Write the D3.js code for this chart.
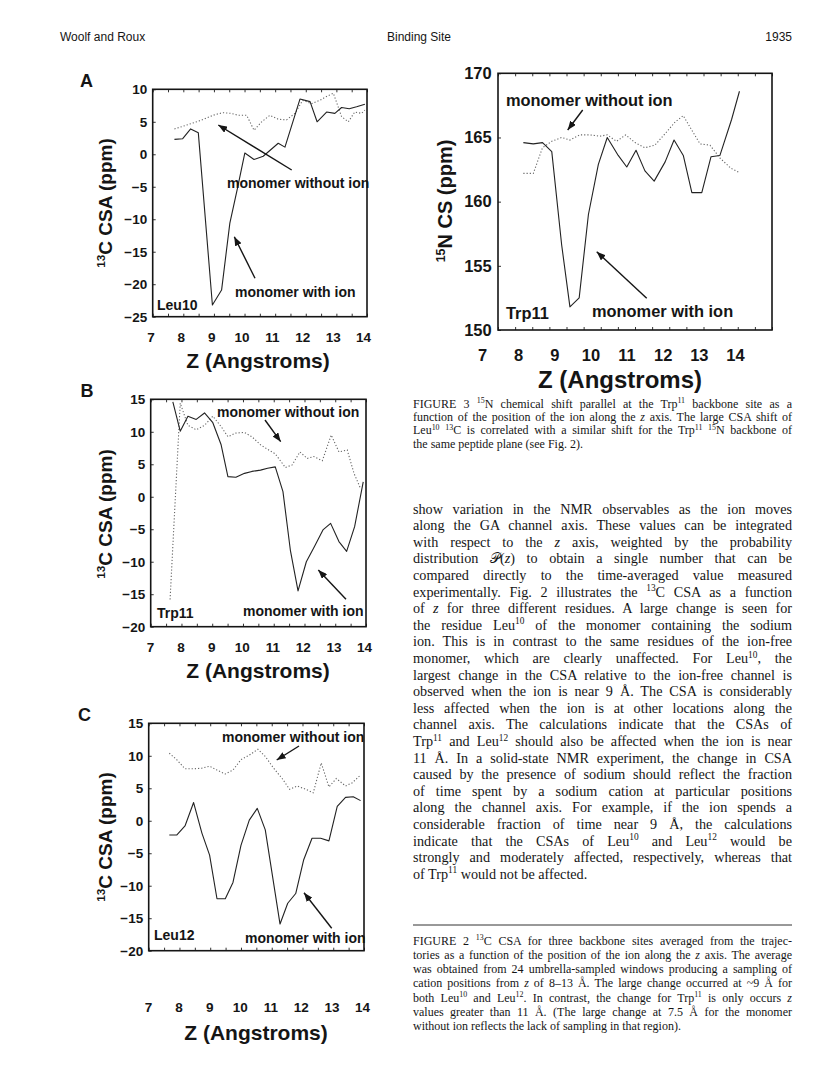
<!DOCTYPE html>
<html>
<head>
<meta charset="utf-8">
<script src="https://d3js.org/d3.v7.min.js"></script>
<style>
  body { margin: 0; background: #fff; }
</style>
</head>
<body>
<script>
// ---------- data ----------
const zTicks = [7, 8, 9, 10, 11, 12, 13, 14];

// Fig 2A  Leu10, 13C CSA (ppm)
const leu10Ticks = [-25, -20, -15, -10, -5, 0, 5, 10];
const leu10WithZ = [7.71, 7.98, 8.24, 8.49, 8.95, 9.25, 9.52, 9.77, 10.01, 10.31, 10.61, 11.1, 11.32, 11.81, 12.14, 12.37, 12.68, 12.95, 13.17, 13.42, 13.66, 13.93];
const leu10With = [2.3, 2.4, 3.9, 3.3, -23.2, -20.9, -10.6, -5.2, 0.2, -0.8, -0.3, 1.7, 1.1, 8.5, 8.1, 5.0, 6.5, 6.3, 7.2, 7.0, 7.3, 7.7];
const leu10WithoutZ = [7.71, 7.98, 8.24, 8.5, 8.77, 9.03, 9.29, 9.55, 9.8, 10.07, 10.31, 10.56, 10.83, 11.1, 11.37, 11.65, 11.9, 12.19, 12.46, 12.68, 12.9, 13.17, 13.39, 13.6, 13.82, 13.93];
const leu10Without = [3.9, 4.3, 4.7, 5.1, 5.6, 6.1, 6.4, 6.3, 6.0, 6.0, 3.7, 5.0, 6.0, 5.4, 5.3, 6.3, 8.3, 7.8, 8.3, 8.9, 9.4, 5.8, 5.0, 6.5, 6.3, 6.8];

// Fig 2B  Trp11, 13C CSA (ppm)
const trp11Ticks = [-20, -15, -10, -5, 0, 5, 10, 15];
const trp11WithZ = [7.72, 7.96, 8.21, 8.48, 8.75, 9.02, 9.29, 9.51, 9.77, 10.05, 10.29, 10.57, 10.8, 11.05, 11.3, 11.54, 11.79, 12.06, 12.32, 12.6, 12.85, 13.12, 13.37, 13.63, 13.91];
const trp11With = [14.6, 10.1, 12.4, 11.9, 12.9, 11.4, 8.0, 3.1, 3.0, 3.6, 3.9, 4.1, 4.4, 4.6, 0.8, -8.2, -14.5, -10.0, -7.7, -5.1, -4.1, -6.9, -8.4, -4.6, 2.3];
const trp11WithoutZ = [7.63, 7.96, 8.21, 8.48, 8.75, 9.02, 9.29, 9.51, 9.77, 10.05, 10.3, 10.57, 10.8, 11.05, 11.38, 11.6, 11.85, 12.09, 12.3, 12.58, 12.87, 13.12, 13.39, 13.61, 13.82];
const trp11Without = [-15.8, 14.4, 11.0, 10.3, 11.0, 12.4, 10.8, 9.25, 9.8, 9.9, 9.2, 8.0, 7.3, 6.6, 4.5, 4.9, 6.9, 5.9, 6.2, 5.55, 9.5, 6.9, 7.2, 3.6, 1.3];

// Fig 2C  Leu12, 13C CSA (ppm)
const leu12Ticks = [-20, -15, -10, -5, 0, 5, 10, 15];
const leu12WithZ = [7.67, 7.91, 8.18, 8.46, 8.73, 8.98, 9.22, 9.49, 9.74, 10.0, 10.27, 10.53, 10.79, 11.27, 11.52, 11.78, 12.04, 12.31, 12.59, 12.86, 13.13, 13.4, 13.65, 13.89];
const leu12With = [-2.2, -2.2, -0.8, 2.8, -1.9, -5.3, -12.0, -12.0, -9.5, -3.8, 0.1, 1.9, -1.4, -15.9, -12.7, -11.2, -6.0, -2.7, -2.7, -3.1, 2.2, 3.6, 3.7, 3.1];
const leu12WithoutZ = [7.67, 7.91, 8.18, 8.46, 8.73, 8.98, 9.22, 9.49, 9.74, 10.0, 10.27, 10.55, 10.79, 11.06, 11.34, 11.58, 11.83, 12.1, 12.35, 12.61, 12.86, 13.1, 13.4, 13.62, 13.89];
const leu12Without = [10.4, 9.4, 8.0, 8.0, 8.1, 8.4, 7.8, 7.2, 7.8, 9.4, 10.1, 11.0, 9.9, 8.1, 6.5, 4.85, 5.35, 4.85, 4.3, 8.9, 5.2, 6.5, 5.35, 5.85, 7.05];

// Fig 3  Trp11, 15N CS (ppm)
const n15Ticks = [150, 155, 160, 165, 170];
const n15WithZ = [7.74, 8.03, 8.3, 8.57, 8.86, 9.1, 9.37, 9.64, 9.93, 10.19, 10.51, 10.76, 11.03, 11.29, 11.56, 11.88, 12.14, 12.41, 12.66, 12.95, 13.22, 13.48, 13.82, 14.05];
const n15With = [164.6, 164.5, 164.6, 163.9, 156.6, 151.8, 152.5, 159.0, 162.9, 165.0, 163.6, 162.7, 164.0, 162.4, 161.6, 163.1, 164.8, 163.6, 160.7, 160.7, 163.5, 163.6, 166.4, 168.6];
const n15WithoutZ = [7.74, 8.03, 8.3, 8.57, 8.86, 9.1, 9.39, 9.68, 9.97, 10.19, 10.46, 10.73, 11.0, 11.29, 11.58, 11.88, 12.17, 12.41, 12.63, 12.9, 13.19, 13.48, 13.8, 14.02];
const n15Without = [162.2, 162.2, 164.2, 164.7, 165.0, 164.8, 165.2, 165.2, 165.1, 165.2, 164.7, 165.2, 164.6, 164.2, 164.4, 165.3, 166.2, 166.7, 165.7, 164.5, 164.4, 163.4, 162.6, 162.3];

// ---------- page text ----------
const fig3Caption = [
  "FIGURE 3  ^{15}N chemical shift parallel at the Trp^{11} backbone site as a",
  "function of the position of the ion along the *z* axis. The large CSA shift of",
  "Leu^{10} ^{13}C is correlated with a similar shift for the Trp^{11} ^{15}N backbone of",
  "the same peptide plane (see Fig. 2)."
];
const bodyLines = [
  "show variation in the NMR observables as the ion moves",
  "along the GA channel axis. These values can be integrated",
  "with respect to the *z* axis, weighted by the probability",
  "distribution 𝒫(*z*) to obtain a single number that can be",
  "compared directly to the time-averaged value measured",
  "experimentally. Fig. 2 illustrates the ^{13}C CSA as a function",
  "of *z* for three different residues. A large change is seen for",
  "the residue Leu^{10} of the monomer containing the sodium",
  "ion. This is in contrast to the same residues of the ion-free",
  "monomer, which are clearly unaffected. For Leu^{10}, the",
  "largest change in the CSA relative to the ion-free channel is",
  "observed when the ion is near 9 Å. The CSA is considerably",
  "less affected when the ion is at other locations along the",
  "channel axis. The calculations indicate that the CSAs of",
  "Trp^{11} and Leu^{12} should also be affected when the ion is near",
  "11 Å. In a solid-state NMR experiment, the change in CSA",
  "caused by the presence of sodium should reflect the fraction",
  "of time spent by a sodium cation at particular positions",
  "along the channel axis. For example, if the ion spends a",
  "considerable fraction of time near 9 Å, the calculations",
  "indicate that the CSAs of Leu^{10} and Leu^{12} would be",
  "strongly and moderately affected, respectively, whereas that",
  "of Trp^{11} would not be affected."
];
const fig2Caption = [
  "FIGURE 2  ^{13}C CSA for three backbone sites averaged from the trajec-",
  "tories as a function of the position of the ion along the *z* axis. The average",
  "was obtained from 24 umbrella-sampled windows producing a sampling of",
  "cation positions from *z* of 8–13 Å. The large change occurred at ~9 Å for",
  "both Leu^{10} and Leu^{12}. In contrast, the change for Trp^{11} is only occurs *z*",
  "values greater than 11 Å. (The large change at 7.5 Å for the monomer",
  "without ion reflects the lack of sampling in that region)."
];

// ---------- drawing ----------
const sans = '"Liberation Sans", Arial, Helvetica, sans-serif';
const serif = '"Liberation Serif", "Times New Roman", serif';
const ink = '#151515';

const svg = d3.select('body').append('svg')
  .attr('width', 816).attr('height', 1078);
svg.append('rect').attr('width', 816).attr('height', 1078).attr('fill', '#fff');

svg.append('defs').append('marker')
  .attr('id', 'head')
  .attr('viewBox', '0 0 10 10')
  .attr('refX', 10).attr('refY', 5)
  .attr('markerUnits', 'userSpaceOnUse')
  .attr('markerWidth', 9).attr('markerHeight', 7)
  .attr('preserveAspectRatio', 'none')
  .attr('orient', 'auto')
  .append('path').attr('d', 'M0,0L10,5L0,10Z').attr('fill', ink);

// running header
const header = svg.append('g').attr('font-family', sans).attr('font-size', 12).attr('fill', ink);
header.append('text').attr('x', 60).attr('y', 41).text('Woolf and Roux');
header.append('text').attr('x', 419).attr('y', 41).attr('text-anchor', 'middle').text('Binding Site');
header.append('text').attr('x', 792).attr('y', 41).attr('text-anchor', 'end').text('1935');

// text with ^{sup} and *italic* markup, optionally justified to width w
function richText(parent, str, x, y, size, w, justify) {
  const t = parent.append('text').attr('x', x).attr('y', y)
    .attr('font-family', serif).attr('font-size', size).attr('fill', ink);
  let raised = false;
  const shift = size * 0.38;
  str.split(/(\^\{[^}]*\}|\*[^*]+\*)/).forEach(part => {
    if (!part) return;
    const sp = t.append('tspan');
    if (part.startsWith('^{')) {
      sp.text(part.slice(2, -1)).attr('font-size', size * 0.66);
      if (!raised) sp.attr('dy', -shift);
      raised = true;
    } else {
      if (part.startsWith('*')) { sp.text(part.slice(1, -1)).attr('font-style', 'italic'); }
      else sp.text(part);
      if (raised) sp.attr('dy', shift);
      raised = false;
    }
  });
  if (justify) {
    const plain = t.text().trim();
    const spaces = (plain.match(/\s+/g) || []).length;
    const len = t.node().getComputedTextLength();
    if (spaces > 0) t.attr('word-spacing', (w - len) / spaces);
  }
  return t;
}

function prose(lines, top, step, size) {
  const g = svg.append('g');
  lines.forEach((s, i) => richText(g, s, 413, top + i * step, size, 379, i < lines.length - 1));
}
prose(fig3Caption, 407.5, 13.4, 12);
prose(bodyLines, 513.5, 16.6, 14.2);
prose(fig2Caption, 944.5, 14.3, 12);
svg.append('line').attr('x1', 413).attr('x2', 792).attr('y1', 925).attr('y2', 925)
  .attr('stroke', '#333').attr('stroke-width', 1);

const panels = [
  { letter: 'A', lx: 80, ly: 87, box: [152.7, 89.3, 367, 316.7], xDomain: [7, 14], yDomain: [-25, 10], yTicks: leu10Ticks,
    xLabelRange: [150.5, 363], tickY: 341.5, tickFs: 13.5, yPad: 5.5, titleX: 258, titleY: 368, titleFs: 21,
    ylab: { x: 112, y: 203, sup: '13', rest: 'C CSA (ppm)', fs: 19 },
    withZ: leu10WithZ, withV: leu10With, woZ: leu10WithoutZ, woV: leu10Without,
    notes: [{ t: 'monomer without ion', x: 227, y: 188, fs: 14 }, { t: 'monomer with ion', x: 235, y: 297, fs: 14 }, { t: 'Leu10', x: 157, y: 310, fs: 14 }],
    arrows: [[291.7, 170, 218.3, 125], [255, 278.3, 234.3, 236.7]] },
  { letter: 'B', lx: 80.5, ly: 396.5, box: [150.7, 399.3, 366, 626.7], xDomain: [7, 14], yDomain: [-20, 15], yTicks: trp11Ticks,
    xLabelRange: [150, 364], tickY: 651.5, tickFs: 13.5, yPad: 5.5, titleX: 258, titleY: 678, titleFs: 21,
    ylab: { x: 112, y: 514, sup: '13', rest: 'C CSA (ppm)', fs: 19 },
    withZ: trp11WithZ, withV: trp11With, woZ: trp11WithoutZ, woV: trp11Without,
    notes: [{ t: 'monomer without ion', x: 217, y: 417, fs: 14 }, { t: 'monomer with ion', x: 243, y: 616, fs: 14 }, { t: 'Trp11', x: 157, y: 618, fs: 14 }],
    arrows: [[265, 420, 280.7, 441.7], [346, 599.3, 318.3, 570]] },
  { letter: 'C', lx: 78, ly: 720.5, box: [148.7, 723.3, 364, 950.7], xDomain: [7, 14], yDomain: [-20, 15], yTicks: leu12Ticks,
    xLabelRange: [148, 362], tickY: 1012, tickFs: 13.5, yPad: 5.5, titleX: 256, titleY: 1040, titleFs: 21,
    ylab: { x: 112, y: 837, sup: '13', rest: 'C CSA (ppm)', fs: 19 },
    withZ: leu12WithZ, withV: leu12With, woZ: leu12WithoutZ, woV: leu12Without,
    notes: [{ t: 'monomer without ion', x: 222, y: 742, fs: 14 }, { t: 'monomer with ion', x: 245, y: 943, fs: 14 }, { t: 'Leu12', x: 154, y: 940, fs: 14 }],
    arrows: [[299, 746, 276.7, 760], [331.7, 928.3, 304, 892.7]] },
  { letter: null, box: [498, 73.3, 772, 330], xDomain: [7, 15], yDomain: [150, 170], yTicks: n15Ticks,
    xLabelRange: [482, 735], tickY: 361, tickFs: 16.5, yPad: 6.3, titleX: 620, titleY: 388, titleFs: 24,
    ylab: { x: 452, y: 201, sup: '15', rest: 'N CS (ppm)', fs: 20 },
    withZ: n15WithZ, withV: n15With, woZ: n15WithoutZ, woV: n15Without,
    notes: [{ t: 'monomer without ion', x: 506, y: 106, fs: 16.4 }, { t: 'monomer with ion', x: 592, y: 317, fs: 16.4 }, { t: 'Trp11', x: 506, y: 319, fs: 16.4 }],
    arrows: [[582.7, 110, 567.7, 130], [646.7, 298.3, 596.7, 251.7]] }
];

function boldText(g, str, x, y, fs) {
  return g.append('text').attr('x', x).attr('y', y)
    .attr('font-family', sans).attr('font-weight', 'bold').attr('font-size', fs).attr('fill', ink).text(str);
}

function drawPanel(p) {
  const [x0, y0, x1, y1] = p.box;
  const x = d3.scaleLinear().domain(p.xDomain).range([x0, x1]);
  const y = d3.scaleLinear().domain(p.yDomain).range([y1, y0]);
  const g = svg.append('g');

  // small inward ticks on top and bottom edges
  const minor = d3.range(p.xDomain[0], p.xDomain[1] + 0.01, 0.5);
  [[d3.axisBottom, y1], [d3.axisTop, y0]].forEach(([ax, ty]) => {
    const a = g.append('g').attr('transform', `translate(0,${ty})`)
      .call(ax(x).tickValues(minor).tickSize(-3).tickFormat(''));
    a.select('.domain').remove();
    a.selectAll('line').attr('stroke', '#333');
  });

  // y axis
  const ya = g.append('g').attr('transform', `translate(${x0},0)`)
    .call(d3.axisLeft(y).tickValues(p.yTicks).tickSize(-3).tickPadding(p.yPad).tickFormat(d3.format('d')));
  ya.select('.domain').remove();
  ya.selectAll('line').attr('stroke', '#333');
  ya.selectAll('text').attr('font-family', sans).attr('font-weight', 'bold')
    .attr('font-size', p.tickFs).attr('fill', ink);

  // z tick labels under the frame
  const xl = d3.scaleLinear().domain([7, 14]).range(p.xLabelRange);
  const xa = g.append('g').attr('transform', `translate(0,${p.tickY})`)
    .call(d3.axisBottom(xl).tickValues(zTicks).tickSize(0).tickPadding(0).tickFormat(d3.format('d')));
  xa.select('.domain').remove();
  xa.selectAll('text').attr('dy', null).attr('y', 0)
    .attr('font-family', sans).attr('font-weight', 'bold').attr('font-size', p.tickFs).attr('fill', ink);

  // series
  const line = d3.line().x(d => x(d[0])).y(d => y(d[1]));
  g.append('path').datum(d3.zip(p.woZ, p.woV)).attr('d', line)
    .attr('fill', 'none').attr('stroke', '#666').attr('stroke-width', 1.1)
    .attr('stroke-dasharray', '1.2,2');
  g.append('path').datum(d3.zip(p.withZ, p.withV)).attr('d', line)
    .attr('fill', 'none').attr('stroke', '#222').attr('stroke-width', 1.1)
    .attr('stroke-linejoin', 'round');

  // frame
  g.append('rect').attr('x', x0).attr('y', y0).attr('width', x1 - x0).attr('height', y1 - y0)
    .attr('fill', 'none').attr('stroke', ink).attr('stroke-width', 1.6);

  // annotations
  p.notes.forEach(n => boldText(g, n.t, n.x, n.y, n.fs));
  p.arrows.forEach(a => g.append('line')
    .attr('x1', a[0]).attr('y1', a[1]).attr('x2', a[2]).attr('y2', a[3])
    .attr('stroke', ink).attr('stroke-width', 1.4).attr('marker-end', 'url(#head)'));

  // titles
  boldText(g, 'Z (Angstroms)', p.titleX, p.titleY, p.titleFs).attr('text-anchor', 'middle');
  const yl = g.append('text')
    .attr('transform', `translate(${p.ylab.x},${p.ylab.y}) rotate(-90)`)
    .attr('text-anchor', 'middle')
    .attr('font-family', sans).attr('font-weight', 'bold').attr('font-size', p.ylab.fs).attr('fill', ink);
  yl.append('tspan').attr('font-size', p.ylab.fs * 0.62).attr('dy', -p.ylab.fs * 0.36).text(p.ylab.sup);
  yl.append('tspan').attr('dy', p.ylab.fs * 0.36).text(p.ylab.rest);

  if (p.letter) boldText(g, p.letter, p.lx, p.ly, 18);
}

panels.forEach(drawPanel);
</script>
</body>
</html>
